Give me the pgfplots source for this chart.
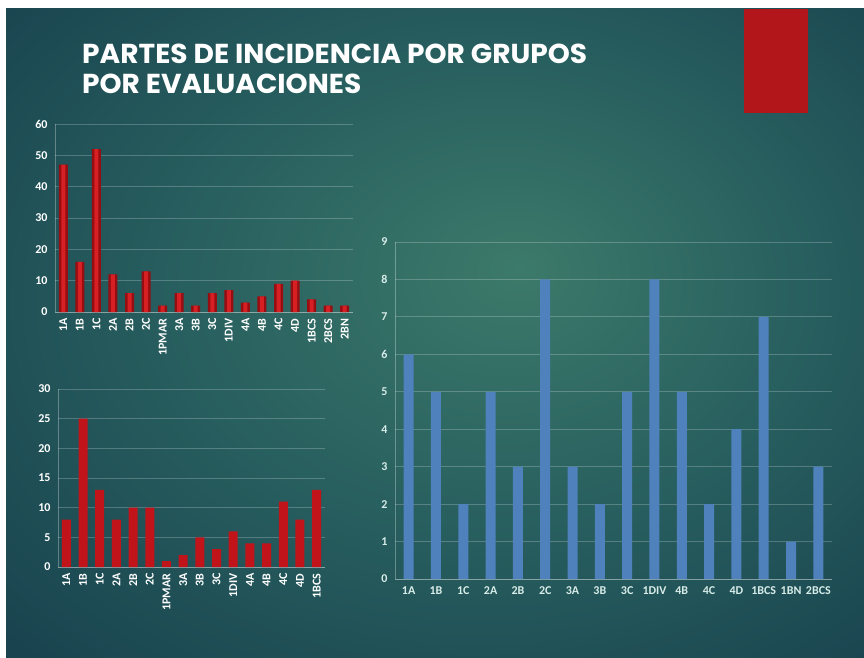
\documentclass[border=0pt]{standalone}
\usepackage{pgfplots}
\pgfplotsset{compat=1.18}
\usepackage{fontspec}
\setmainfont{Carlito}
\newfontfamily\titlefont{Poppins}
\definecolor{bgin}{RGB}{60,122,106}
\definecolor{bgmid}{RGB}{40,95,95}
\definecolor{bgmid2}{RGB}{24,66,78}
\definecolor{bgout}{RGB}{17,54,70}
\definecolor{slidered}{RGB}{178,22,26}
\definecolor{bardark}{RGB}{150,14,18}
\definecolor{barlight}{RGB}{214,32,36}
\definecolor{barred}{RGB}{192,20,26}
\definecolor{barblue}{RGB}{79,129,189}
\definecolor{labcyan}{RGB}{215,236,232}
\pgfdeclareradialshading{bgshade}{\pgfpoint{5bp}{5bp}}{color(0bp)=(bgin); color(18bp)=(bgmid); color(38bp)=(bgmid2); color(55bp)=(bgout)}
\pgfplotsset{
  slidebar/.style={
    scale only axis, ybar, bar shift=0pt,
    xtick=data, ymin=0,
    axis x line*=bottom, axis y line*=left,
    axis line style={-, draw=white, draw opacity=0.3, line width=0.8pt},
    ymajorgrids, grid style={draw=white, draw opacity=0.22, line width=0.8pt},
    major tick length=0pt,
    tick label style={font=\bfseries\fontsize{12}{13}\selectfont, text=white},
    yticklabel style={xshift=-4pt},
    /pgf/number format/assume math mode=true,
  }
}
\begin{document}
\begin{tikzpicture}[x=1pt,y=1pt]
\path[use as bounding box] (0,0) rectangle (864,657);
\fill[white] (0,0) rectangle (864,657);
\shade[shading=bgshade] (6,0) rectangle (864,648);
\fill[slidered] (744,544) rectangle (808,648);
\node[anchor=base west, inner sep=0, text=white] at (82,593) {\resizebox{505pt}{19.5pt}{\titlefont\bfseries PARTES DE INCIDENCIA POR GRUPOS}};
\node[anchor=base west, inner sep=0, text=white] at (82,563) {\resizebox{279pt}{19.5pt}{\titlefont\bfseries POR EVALUACIONES}};

% Chart 1 (top left)
\begin{axis}[slidebar, at={(55pt,345pt)}, anchor=south west,
  width=298pt, height=188pt,
  xmin=-0.5, xmax=17.5, ymax=60, ytick={0,10,...,60},
  xticklabels={1A,1B,1C,2A,2B,2C,1PMAR,3A,3B,3C,1DIV,4A,4B,4C,4D,1BCS,2BCS,2BN},
  xticklabel style={yshift=-3pt, rotate=90, anchor=east}]
\addplot[draw=none, fill=bardark, bar width=9pt] coordinates {
(0,47) (1,16) (2,52) (3,12) (4,6) (5,13) (6,2) (7,6) (8,2) (9,6) (10,7) (11,3) (12,5) (13,9) (14,10) (15,4) (16,2) (17,2)};
\addplot[draw=none, fill=barlight, bar width=4pt] coordinates {
(0,47) (1,16) (2,52) (3,12) (4,6) (5,13) (6,2) (7,6) (8,2) (9,6) (10,7) (11,3) (12,5) (13,9) (14,10) (15,4) (16,2) (17,2)};
\end{axis}

% Chart 2 (bottom left)
\begin{axis}[slidebar, at={(58pt,90pt)}, anchor=south west,
  width=267pt, height=178pt,
  xmin=-0.5, xmax=15.5, ymax=30, ytick={0,5,...,30},
  xticklabels={1A,1B,1C,2A,2B,2C,1PMAR,3A,3B,3C,1DIV,4A,4B,4C,4D,1BCS},
  xticklabel style={yshift=-3pt, rotate=90, anchor=east}]
\addplot[draw=none, fill=barred, bar width=9pt] coordinates {
(0,8) (1,25) (2,13) (3,8) (4,10) (5,10) (6,1) (7,2) (8,5) (9,3) (10,6) (11,4) (12,4) (13,11) (14,8) (15,13)};
\end{axis}

% Chart 3 (right)
\begin{axis}[slidebar, at={(395pt,78pt)}, anchor=south west,
  width=437pt, height=337pt,
  xmin=-0.5, xmax=15.5, ymax=9, ytick={0,1,...,9},
  tick label style={text=labcyan},
  xticklabels={1A,1B,1C,2A,2B,2C,3A,3B,3C,1DIV,4B,4C,4D,1BCS,1BN,2BCS},
  xticklabel style={yshift=-4pt}]
\addplot[draw=none, fill=barblue, bar width=10pt] coordinates {
(0,6) (1,5) (2,2) (3,5) (4,3) (5,8) (6,3) (7,2) (8,5) (9,8) (10,5) (11,2) (12,4) (13,7) (14,1) (15,3)};
\end{axis}
\end{tikzpicture}
\end{document}
